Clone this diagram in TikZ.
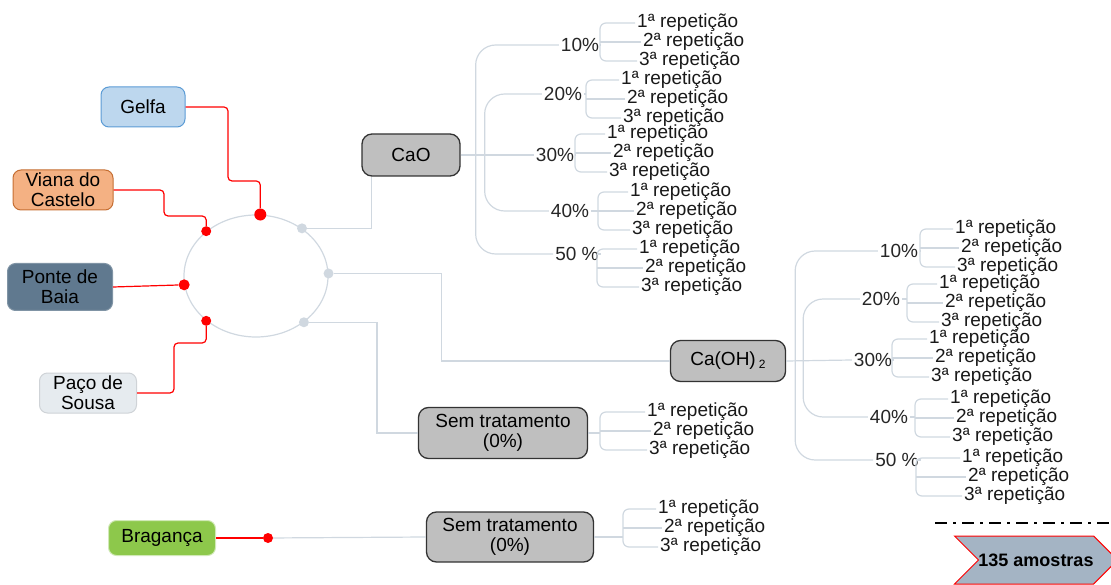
\documentclass[tikz,border=0pt]{standalone}
\usepackage{fontspec}
\setmainfont{Liberation Sans}
\usetikzlibrary{positioning,shapes.geometric,shapes.symbols}

\definecolor{linkgray}{RGB}{208,216,224}
\definecolor{boxgray}{RGB}{191,191,191}
\definecolor{gelfafill}{RGB}{189,215,238}
\definecolor{gelfaline}{RGB}{91,155,213}
\definecolor{vianafill}{RGB}{244,177,131}
\definecolor{vianaline}{RGB}{197,110,50}
\definecolor{pontefill}{RGB}{96,121,143}
\definecolor{pacofill}{RGB}{230,235,239}
\definecolor{bragafill}{RGB}{141,200,75}
\definecolor{arrowfill}{RGB}{164,180,196}

\begin{document}
\begin{tikzpicture}[
  x=1pt, y=-1pt, font=\fontsize{19}{20}\selectfont,
  site/.style={draw, rounded corners=8pt, align=center, inner sep=1pt, line width=1pt},
  treat/.style={draw=black!80, fill=boxgray, rounded corners=10pt, align=center, line width=1.3pt},
  pct/.style={inner sep=2pt, text=black!85},
  rep/.style={inner sep=2pt, anchor=west, text=black!90},
  link/.style={draw=linkgray, line width=1.2pt},
  redlink/.style={draw=red, line width=1.2pt, rounded corners=4pt},
  reddot/.style={circle, fill=red, inner sep=0pt, minimum size=#1},
  graydot/.style={circle, fill=linkgray, inner sep=0pt, minimum size=10pt}
]
\clip (0,0) rectangle (1111,585);

% ---------- SAMPLING SITES ----------
\node[site, fill=gelfafill, draw=gelfaline, minimum width=84pt, minimum height=40pt] (gelfa) at (143,107) {Gelfa};
\node[site, fill=vianafill, draw=vianaline, minimum width=100pt, minimum height=40pt] (viana) at (63,190) {Viana do\\Castelo};
\node[site, fill=pontefill, draw=pontefill!80!white, minimum width=105pt, minimum height=47pt] (ponte) at (60,287) {Ponte de\\Baia};
\node[site, fill=pacofill, draw=pacofill!90!black, minimum width=97pt, minimum height=40pt] (paco) at (88,393) {Paço de\\Sousa};
\node[site, fill=bragafill, draw=bragafill!40!white, minimum width=107pt, minimum height=35pt] (braganca) at (162,538) {Bragança};

% ---------- HUB ----------
\node[ellipse, draw=linkgray, line width=1.2pt, minimum width=144pt, minimum height=122pt, inner sep=0pt] (hub) at (256,276) {};
\node[reddot=12pt] (rg) at (hub.86) {};
\node[reddot=10pt] (rv) at (hub.138) {};
\node[reddot=11pt] (rp) at (hub.187) {};
\node[reddot=10pt] (rs) at (hub.222) {};
\node[graydot] (g1) at (hub.46) {};
\node[graydot] (g2) at (hub.2) {};
\node[graydot] (g3) at (hub.-44) {};
\node[reddot=10pt] (rb) at (268,538) {};

\draw[redlink] (gelfa.east) -| (228,181) -| (rg);
\draw[redlink] (viana.east) -| (164,216) -| (rv);
\draw[redlink] (ponte.east) -- (rp);
\draw[redlink] (paco.east) -| (174,343) -| (rs);
\draw[redlink] (braganca.east) -- (rb);

% ---------- TREATMENTS ----------
\node[treat, minimum width=98pt, minimum height=42pt] (cao) at (411,155) {CaO};
\node[treat, minimum width=115pt, minimum height=41pt] (caoh) at (728,361) {Ca(OH)\,\raisebox{-3pt}{\fontsize{12}{12}\selectfont 2}};
\node[treat, minimum width=169pt, minimum height=51pt] (sem1) at (503,433) {Sem tratamento\\(0\%)};
\node[treat, minimum width=167pt, minimum height=50pt] (sem2) at (510,537) {Sem tratamento\\(0\%)};

\draw[link] (g1) -| ([xshift=10pt]cao.south west);
\draw[link] (g2) -- ++(113,0) |- (caoh.west);
\draw[link] (g3) -- ++(73,0) |- (sem1.west);
\draw[link] (rb) -- (sem2.west);

% ---------- DOSES ----------
\node[pct] (c10) at (580,45) {10\%};
\node[pct] (c20) at (563,94) {20\%};
\node[pct] (c30) at (555,155) {30\%};
\node[pct] (c40) at (570,211) {40\%};
\node[pct] (c50) at (577,254) {50 \%};
\node[pct] (h10) at (899,251) {10\%};
\node[pct] (h20) at (881,299) {20\%};
\node[pct] (h30) at (873,360) {30\%};
\node[pct] (h40) at (889,417) {40\%};
\node[pct] (h50) at (897,460) {50 \%};

\draw[link] (cao.east) -- (c30.west);
\draw[link, rounded corners=20pt] ([xshift=15pt]cao.east) |- (c10.west);
\draw[link, rounded corners=20pt] ([xshift=15pt]cao.east) |- (c50.west);
\draw[link, rounded corners=20pt] ([xshift=24pt]cao.east) |- (c20.west);
\draw[link, rounded corners=20pt] ([xshift=24pt]cao.east) |- (c40.west);

\draw[link] (caoh.east) -- (h30.west);
\draw[link, rounded corners=20pt] ([xshift=9pt]caoh.east) |- (h10.west);
\draw[link, rounded corners=20pt] ([xshift=9pt]caoh.east) |- (h50.west);
\draw[link, rounded corners=20pt] ([xshift=17pt]caoh.east) |- (h20.west);
\draw[link, rounded corners=20pt] ([xshift=17pt]caoh.east) |- (h40.west);

% ---------- REPETITIONS ----------
\foreach \p/\x/\y/\b in {c10/635/23/600, c20/619/80/586, c30/605/134/575,
    c40/628/192/598, c50/637/249/597, h10/953/229/920, h20/937/284/907,
    h30/927/339/892, h40/948/399/915, h50/960/458/916, sem1/645/412/600,
    sem2/656/509/623} {
  \node[rep] (\p-1) at (\x,\y) {1ª repetição};
  \node[rep] (\p-2) at (\x+6,\y+19) {2ª repetição};
  \node[rep] (\p-3) at (\x+2,\y+38) {3ª repetição};
  \coordinate (\p-b) at (\b,\y);
  \draw[link, rounded corners=6pt] (\p-1.west) -| (\p-b |- \p-2.west) |- (\p-3.west);
  \draw[link] (\p.east) -- (\p-b |- \p.east);
  \draw[link] (\p-b |- \p-2.west) -- (\p-2.west);
}

% ---------- TOTAL ----------
\coordinate (sepl) at (935,523);
\coordinate (sepr) at (1111,523);
\draw[line width=2.5pt, dash pattern=on 12pt off 6pt on 3pt off 6pt] (sepl) -- (sepr);
\node[signal, signal to=east, signal from=west, fill=arrowfill, draw=red, line width=1pt,
  minimum width=156pt, minimum height=48pt, inner sep=0pt, font=\fontsize{18}{20}\selectfont\bfseries] (total) at (1036,560) {135 amostras};

\end{tikzpicture}
\end{document}
